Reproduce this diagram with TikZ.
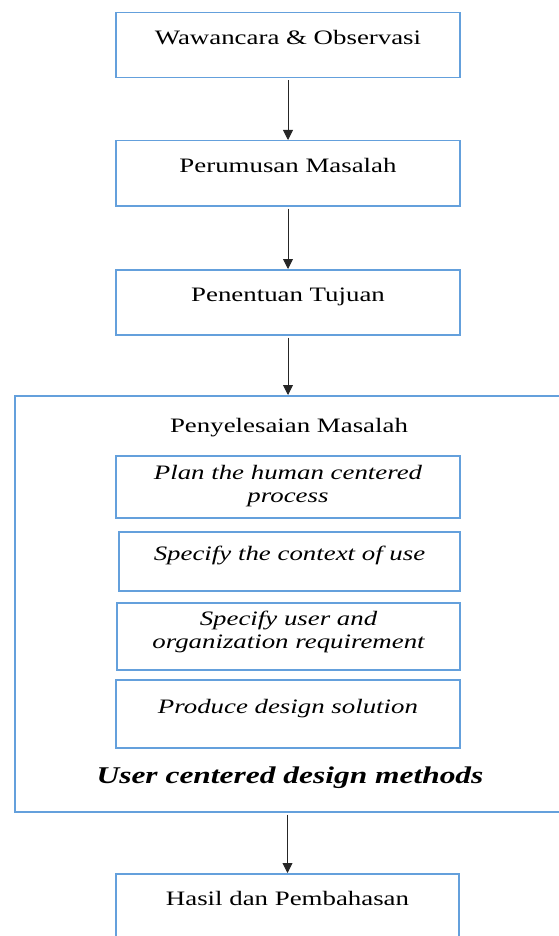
\documentclass[tikz,border=0pt]{standalone}
\usepackage{fontspec}
\setmainfont{Liberation Serif}[FakeStretch=1.31]
\usetikzlibrary{arrows.meta}

\definecolor{boxblue}{RGB}{100,160,220}
\newcommand\stepfont{\fontsize{20.5pt}{23.5pt}\selectfont}

\begin{document}
\begin{tikzpicture}[x=1pt, y=-1pt,
    stepbox/.style={draw=boxblue, line width=1.5pt, inner xsep=0pt, inner ysep=0pt,
                    minimum width=344pt, text height=32pt, text depth=33pt, font=\stepfont},
    methodbox/.style={stepbox, align=center, font=\stepfont\itshape},
    flow/.style={draw=black!85, line width=0.9pt, shorten <=2pt, -{Triangle[width=10pt, length=10pt]}}]

\useasboundingbox (0,0) rectangle (558,936);

 % main steps
 \node[stepbox, anchor=north] (wawancara) at (288,12)  {Wawancara \& Observasi};
 \node[stepbox, anchor=north] (perumusan) at (288,140) {Perumusan Masalah};
 \node[stepbox, anchor=north] (penentuan) at (288,269) {Penentuan Tujuan};

 % problem solving block
 \node[draw=boxblue, line width=1.5pt, minimum width=546pt, minimum height=416pt,
       anchor=north west, inner sep=0pt] (solving) at (14,395) {};
 \node[font=\stepfont, anchor=base] (solvetitle) at (289,432) {Penyelesaian Masalah};
 \node[methodbox, anchor=north, text height=47pt, text depth=15pt] (plan) at (288,455)
      {Plan the human centered\\process};
 \node[methodbox, anchor=north, minimum width=341pt, text height=29pt, text depth=30pt] (context) at (289.5,531)
      {Specify the context of use};
 \node[methodbox, anchor=north, minimum width=343pt, text height=46pt, text depth=21pt] (requirement) at (288.5,602)
      {Specify user and\\organization requirement};
 \node[methodbox, anchor=north, text height=34pt, text depth=34pt] (produce) at (288,679)
      {Produce design solution};
 \node[font=\fontsize{24pt}{28pt}\selectfont\bfseries\itshape, anchor=base] (ucd) at (290,783)
      {User centered design methods};

 \node[stepbox, anchor=north, minimum width=343pt] (hasil) at (287.5,873) {Hasil dan Pembahasan};

 \draw[flow] (wawancara.south) -- (perumusan.north);
 \draw[flow] (perumusan.south) -- (penentuan.north);
 \draw[flow] (penentuan.south) -- (penentuan.south |- solving.north);
 \draw[flow] (hasil.north |- solving.south) -- (hasil.north);
\end{tikzpicture}
\end{document}
